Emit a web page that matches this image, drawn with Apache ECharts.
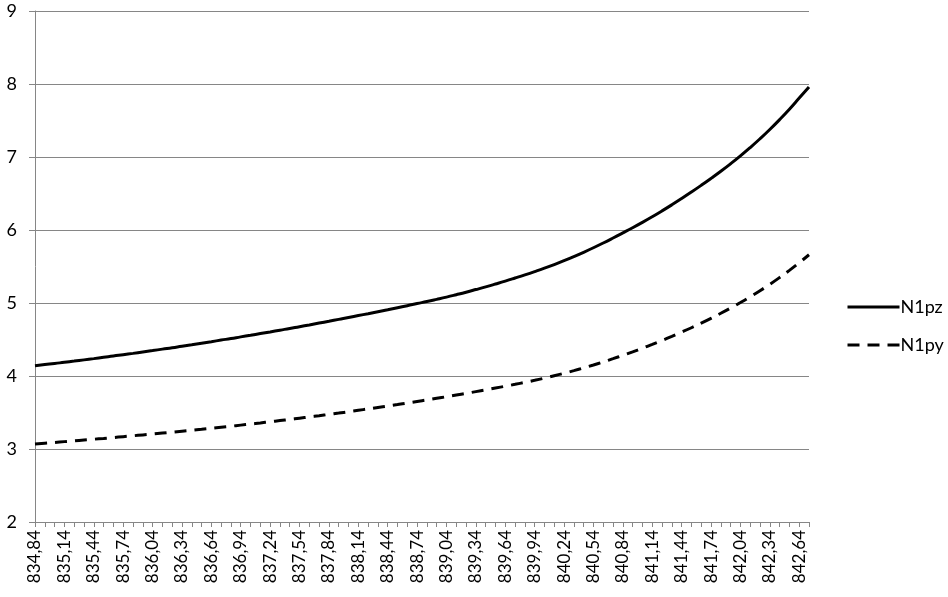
<!DOCTYPE html>
<html>
<head>
<meta charset="utf-8">
<script src="https://cdn.jsdelivr.net/npm/echarts@6/dist/echarts.min.js"></script>
<style>
  html, body { margin: 0; padding: 0; background: #fff; }
  #chart { width: 948px; height: 597px; }
</style>
</head>
<body>
<div id="chart"></div>
<script>
// x categories (step 0,1), labels shown every 3rd
var categories = [
  "834,84", "834,94", "835,04", "835,14", "835,24", "835,34", "835,44", "835,54", "835,64", "835,74",
  "835,84", "835,94", "836,04", "836,14", "836,24", "836,34", "836,44", "836,54", "836,64", "836,74",
  "836,84", "836,94", "837,04", "837,14", "837,24", "837,34", "837,44", "837,54", "837,64", "837,74",
  "837,84", "837,94", "838,04", "838,14", "838,24", "838,34", "838,44", "838,54", "838,64", "838,74",
  "838,84", "838,94", "839,04", "839,14", "839,24", "839,34", "839,44", "839,54", "839,64", "839,74",
  "839,84", "839,94", "840,04", "840,14", "840,24", "840,34", "840,44", "840,54", "840,64", "840,74",
  "840,84", "840,94", "841,04", "841,14", "841,24", "841,34", "841,44", "841,54", "841,64", "841,74",
  "841,84", "841,94", "842,04", "842,14", "842,24", "842,34", "842,44", "842,54", "842,64", "842,74"
];

var n1pz = [
  4.140, 4.156, 4.171, 4.188, 4.204, 4.221, 4.238, 4.256, 4.273, 4.292,
  4.310, 4.329, 4.348, 4.368, 4.387, 4.408, 4.428, 4.449, 4.470, 4.492,
  4.513, 4.536, 4.558, 4.581, 4.604, 4.628, 4.651, 4.676, 4.700, 4.725,
  4.750, 4.776, 4.801, 4.828, 4.854, 4.881, 4.908, 4.936, 4.963, 4.992,
  5.020, 5.050, 5.081, 5.114, 5.148, 5.184, 5.221, 5.260, 5.300, 5.342,
  5.385, 5.430, 5.477, 5.527, 5.580, 5.636, 5.695, 5.757, 5.822, 5.890,
  5.960, 6.031, 6.105, 6.182, 6.262, 6.345, 6.431, 6.520, 6.612, 6.707,
  6.805, 6.908, 7.016, 7.130, 7.250, 7.377, 7.512, 7.655, 7.807, 7.960
];

var n1py = [
  3.070, 3.080, 3.090, 3.101, 3.112, 3.123, 3.134, 3.145, 3.157, 3.169,
  3.181, 3.193, 3.205, 3.218, 3.231, 3.244, 3.257, 3.270, 3.284, 3.298,
  3.312, 3.327, 3.342, 3.357, 3.373, 3.389, 3.405, 3.422, 3.439, 3.456,
  3.474, 3.492, 3.511, 3.530, 3.549, 3.569, 3.589, 3.609, 3.630, 3.651,
  3.672, 3.694, 3.716, 3.739, 3.762, 3.786, 3.810, 3.835, 3.860, 3.886,
  3.913, 3.941, 3.971, 4.003, 4.037, 4.073, 4.111, 4.151, 4.193, 4.237,
  4.283, 4.331, 4.381, 4.433, 4.487, 4.543, 4.601, 4.661, 4.724, 4.790,
  4.859, 4.931, 5.006, 5.085, 5.168, 5.256, 5.349, 5.447, 5.551, 5.661
];

var yTicks = [2, 3, 4, 5, 6, 7, 8, 9];

var chart = echarts.init(document.getElementById("chart"), null, { renderer: "canvas" });
var font = "Lato";
var gray = "#868686";

chart.setOption({
  animation: false,
  backgroundColor: "#fff",
  textStyle: { fontFamily: font, color: "#000" },
  grid: { left: 35, right: 139, top: 11, bottom: 75, containLabel: false },
  legend: {
    orient: "vertical",
    left: 841,
    top: 293,
    itemWidth: 52,
    itemHeight: 14,
    itemGap: 20,
    itemStyle: { opacity: 0 },
    lineStyle: { width: 3 },
    textStyle: { fontFamily: font, fontSize: 18, color: "#000", padding: [0, 0, 0, -4] },
    data: ["N1pz", "N1py"]
  },
  xAxis: {
    type: "category",
    data: categories,
    boundaryGap: false,
    axisLine: { lineStyle: { color: gray, width: 1 } },
    axisTick: { show: true, interval: 0, length: 5, lineStyle: { color: gray } },
    axisLabel: {
      interval: 2,
      rotate: 90,
      margin: 8,
      fontFamily: font,
      fontSize: 17,
      color: "#000"
    },
    splitLine: { show: false }
  },
  yAxis: {
    type: "value",
    min: yTicks[0],
    max: yTicks[yTicks.length - 1],
    interval: 1,
    axisLine: { show: true, lineStyle: { color: gray, width: 1 } },
    axisTick: { show: true, length: 6, lineStyle: { color: gray } },
    axisLabel: { margin: 18, fontFamily: font, fontSize: 18, color: "#000" },
    splitLine: { lineStyle: { color: gray, width: 1 } }
  },
  series: [
    {
      name: "N1pz",
      type: "line",
      data: n1pz,
      showSymbol: false,
      symbol: "none",
      smooth: true,
      lineStyle: { color: "#000", width: 3 },
      itemStyle: { color: "#000" }
    },
    {
      name: "N1py",
      type: "line",
      data: n1py,
      showSymbol: false,
      symbol: "none",
      smooth: true,
      lineStyle: { color: "#000", width: 3, type: [12, 8] },
      itemStyle: { color: "#000" }
    }
  ]
});
</script>
</body>
</html>
